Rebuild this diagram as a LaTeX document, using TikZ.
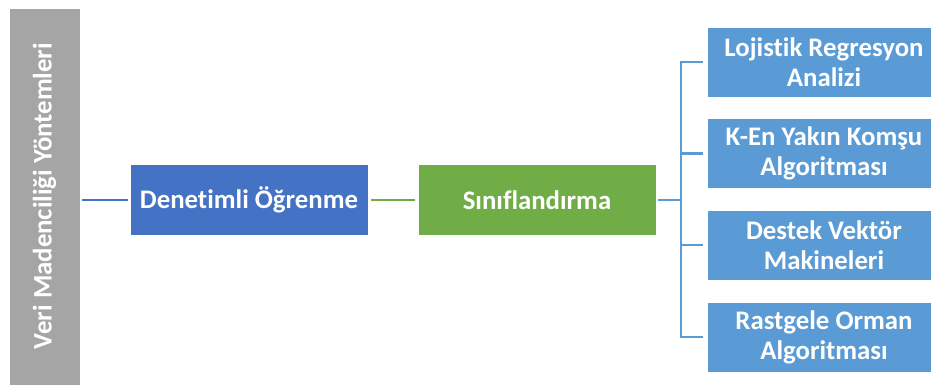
\documentclass[tikz,border=0pt]{standalone}
\usepackage{fontspec}
\setmainfont{Carlito}[RawFeature={-liga;-dlig}]
\definecolor{cgray}{HTML}{A5A5A5}
\definecolor{cblue}{HTML}{4472C4}
\definecolor{cgreen}{HTML}{70AD47}
\definecolor{clblue}{HTML}{5B9BD5}
\tikzset{
  box/.style={draw=white, line width=0.8pt, text=white, inner sep=0pt, align=center,
    font=\fontsize{26.8}{30}\selectfont\bfseries},
  conn/.style={line width=2.8pt},
}
\begin{document}
\begin{tikzpicture}[x=1pt,y=-1pt]
\useasboundingbox (0,0) rectangle (931,385);
\node[box, fill=cgray, minimum width=71pt, minimum height=379pt] (gray) at (44.5,197.5) {};
\node[rotate=90, text=white, font=\fontsize{26.8}{30}\selectfont\bfseries] (graytxt) at (44.5,196) {Veri Madenciliği Yöntemleri};
\node[box, fill=cblue, minimum width=238pt, minimum height=71pt] (blue) at (249,200) {Denetimli Öğrenme};
\node[box, fill=cgreen, minimum width=238pt, minimum height=71pt] (green) at (537,200) {Sınıflandırma};
\node[box, fill=clblue, minimum width=234pt, minimum height=70pt] (r1) at (824,62) {Lojistik Regresyon\\Analizi};
\node[box, fill=clblue, minimum width=234pt, minimum height=70pt] (r2) at (824,153.5) {K-En Yakın Komşu\\Algoritması};
\node[box, fill=clblue, minimum width=234pt, minimum height=70pt] (r3) at (824,245) {Destek Vektör\\Makineleri};
\node[box, fill=clblue, minimum width=234pt, minimum height=70pt] (r4) at (824,337) {Rastgele Orman\\Algoritması};
\coordinate (trunk) at (681,200);
\draw[conn, cblue, shorten <=2pt, shorten >=2pt] (gray.east |- blue.west) -- (blue.west);
\draw[conn, cgreen, shorten <=3pt, shorten >=3pt] (green.west -| blue.east) -- (green.west);
\draw[conn, clblue, shorten <=2pt] (green.east) -- (trunk);
\draw[conn, clblue, line cap=rect] (trunk |- r1.west) -- (trunk |- r4.west);
\foreach \r in {r1,r2,r3,r4}{
  \draw[conn, clblue, shorten >=4pt] (trunk |- \r.west) -- (\r.west);
}
\end{tikzpicture}
\end{document}
